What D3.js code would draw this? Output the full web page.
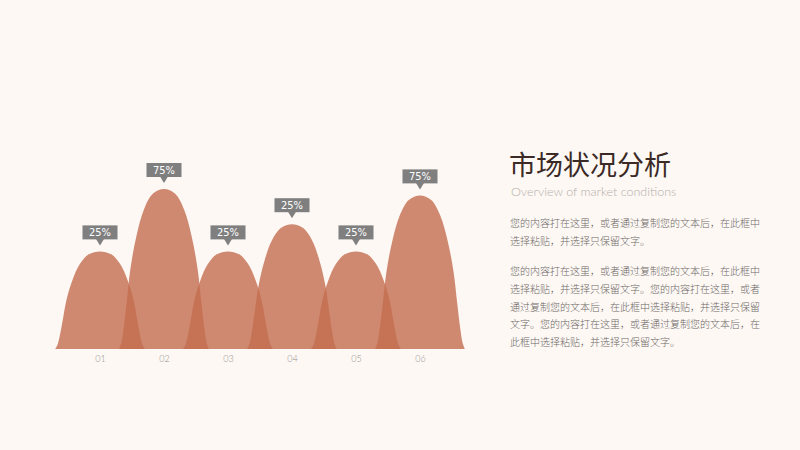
<!DOCTYPE html>
<html>
<head>
<meta charset="utf-8">
<script src="https://cdn.jsdelivr.net/npm/d3@7"></script>
<style>
  body { margin: 0; background: #fdf8f4; }
  svg { display: block; }
</style>
</head>
<body>
<div id="chart"></div>
<script>
// data
var categories = ["01", "02", "03", "04", "05", "06"];
var heights = [61, 100, 61, 78, 61, 96];
var labels = ["25%", "75%", "25%", "25%", "25%", "75%"];

var title = "市场状况分析";
var subtitle = "Overview of market conditions";
var para1 = [
    "您的内容打在这里，或者通过复制您的文本后，在此框中",
    "选择粘贴，并选择只保留文字。"
];
var para2 = [
    "您的内容打在这里，或者通过复制您的文本后，在此框中",
    "选择粘贴，并选择只保留文字。您的内容打在这里，或者",
    "通过复制您的文本后，在此框中选择粘贴，并选择只保留",
    "文字。您的内容打在这里，或者通过复制您的文本后，在",
    "此框中选择粘贴，并选择只保留文字。"
];

var svg = d3.select("#chart").append("svg")
    .attr("width", 800)
    .attr("height", 450)

svg.append("rect")
    .attr("width", 800)
    .attr("height", 450)
    .attr("fill", "#fdf8f4")

// Scales
var x = d3.scalePoint()
    .domain(categories)
    .range([100, 420])

var y = d3.scaleLinear()
    .domain([0, 100])
    .range([349, 189])

var halfWidth = x.step() * 0.7;

// bell profile (t = relative x, h = relative height)
var profile = [
    [-1, 0], [-0.95, 0.04], [-0.9, 0.13], [-0.83, 0.3], [-0.75, 0.5],
    [-0.62, 0.7], [-0.45, 0.87], [-0.25, 0.97], [0, 1],
    [0.25, 0.97], [0.45, 0.87], [0.62, 0.7], [0.75, 0.5], [0.83, 0.3],
    [0.9, 0.13], [0.95, 0.04], [1, 0]
];

var area = d3.area()
    .curve(d3.curveCatmullRom)
    .y0(y(0));

svg.selectAll("path.peak")
    .data(categories)
    .enter()
    .append("path")
    .attr("class", "peak")
    .attr("fill", "#c36d4f")
    .attr("fill-opacity", 0.8)
    .attr("d", function (d, i) {
        var cx = x(d);
        return area
            .x(function (p) { return cx + p[0] * halfWidth; })
            .y1(function (p) { return y(heights[i] * p[1]); })(profile);
    });

// Axis labels
var axis = svg.append("g")
    .attr("transform", "translate(0," + y(0) + ")")
    .call(d3.axisBottom(x).tickSize(0).tickPadding(7));
axis.select(".domain").remove();
axis.selectAll("text")
    .attr("fill", "#96908c")
    .style("font-family", "Lato, 'Open Sans', sans-serif")
    .style("font-weight", 300)
    .style("font-size", "9px");

// Value tags
var tags = svg.selectAll("g.tag")
    .data(categories)
    .enter()
    .append("g")
    .attr("class", "tag")
    .attr("transform", function (d, i) {
        return "translate(" + x(d) + "," + y(heights[i]) + ")";
    });

tags.append("rect")
    .attr("x", -17.5)
    .attr("y", -26)
    .attr("width", 35)
    .attr("height", 14)
    .attr("fill", "#7f7f7f");

tags.append("path")
    .attr("d", "M-4,-12.5L4,-12.5L0,-6Z")
    .attr("fill", "#7f7f7f");

tags.append("text")
    .attr("text-anchor", "middle")
    .attr("y", -15)
    .attr("fill", "#ffffff")
    .style("font-family", "'DejaVu Sans Condensed', 'DejaVu Sans', sans-serif")
    .style("font-size", "11px")
    .text(function (d, i) { return labels[i]; });

// Right side text
svg.append("text")
    .attr("x", 509)
    .attr("y", 175)
    .attr("fill", "#3b2a25")
    .style("font-family", "'Noto Sans CJK SC', sans-serif")
    .style("font-size", "27px")
    .text(title);

svg.append("text")
    .attr("x", 511)
    .attr("y", 196)
    .attr("fill", "#b5aeaa")
    .style("font-family", "Lato, sans-serif")
    .style("font-weight", 300)
    .style("font-size", "12.5px")
    .text(subtitle);

function addPara(lines, top) {
    svg.selectAll(null)
        .data(lines)
        .enter()
        .append("text")
        .attr("x", 510)
        .attr("y", function (d, i) { return top + i * 17.8; })
        .attr("fill", "#6e6966")
        .style("font-family", "'Noto Sans CJK SC', sans-serif")
        .style("font-weight", 300)
        .style("font-size", "10px")
        .text(function (d) { return d; });
}
addPara(para1, 227);
addPara(para2, 275);
</script>
</body>
</html>
